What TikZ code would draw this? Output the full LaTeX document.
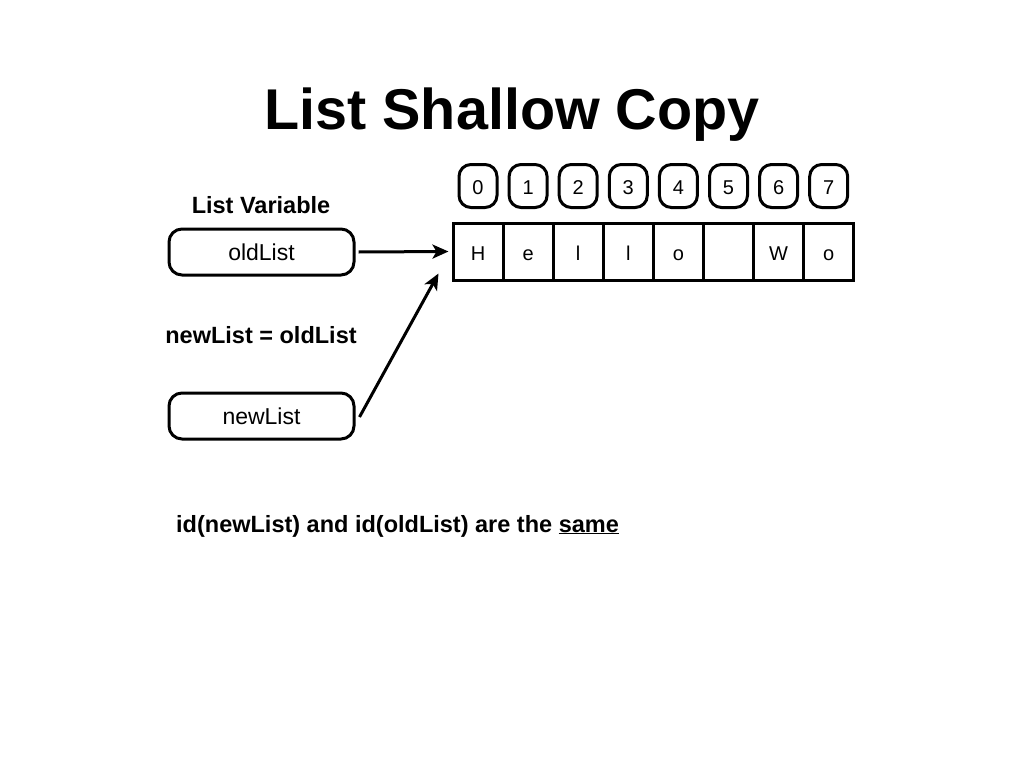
\documentclass[tikz,border=0pt]{standalone}
\usepackage{fontspec}
\setmainfont{Liberation Sans}
\usetikzlibrary{arrows.meta}
\begin{document}
\begin{tikzpicture}[x=1pt,y=-1pt,
  cell/.style={draw,line width=3pt,minimum width=50pt,minimum height=57pt,inner sep=0pt,text height=17pt,text depth=0pt,font=\fontsize{20}{24}\selectfont},
  idx/.style={draw,line width=3pt,rounded corners=12pt,minimum width=38pt,minimum height=43pt,inner sep=0pt,text height=16.5pt,text depth=0pt,font=\fontsize{20}{24}\selectfont},
  var/.style={draw,line width=3pt,rounded corners=13pt,minimum width=185pt,minimum height=46pt,inner sep=0pt,font=\fontsize{23}{27}\selectfont},
  lbl/.style={font=\fontsize{23.5}{28}\selectfont\bfseries,inner sep=0pt},
  arr/.style={line width=3pt,-{Stealth[length=16pt,width=14pt,inset=4pt]}}]
\useasboundingbox (0,0) rectangle (1024,768);
\node[font=\fontsize{57.5}{66}\selectfont\bfseries,anchor=base,inner sep=0pt] (title) at (512,129) {List Shallow Copy};
\foreach \c [count=\i from 0] in {H,e,l,l,o,{},W,o}{
  \node[cell] (cell\i) at ({478+50.1*\i},251.5) {\c};
  \node[idx] (idx\i) at ({478+50.1*\i},186) {\i};
}
\node[lbl] (varlbl) at (261,205) {List Variable};
\node[var] (oldList) at (261.5,252) {oldList};
\node[lbl] (assign) at (261,335) {newList = oldList};
\node[var] (newList) at (261.5,416) {newList};
\draw[arr] ([xshift=3pt]oldList.east) -- ([xshift=-3pt]cell0.west);
\draw[arr] ([xshift=4pt,yshift=-1pt]newList.east) -- ([xshift=-13pt,yshift=8pt]cell0.south west);
\node[lbl,anchor=base west] (note) at (176,532) {id(newList) and id(oldList) are the \underline{same}};
\end{tikzpicture}
\end{document}
